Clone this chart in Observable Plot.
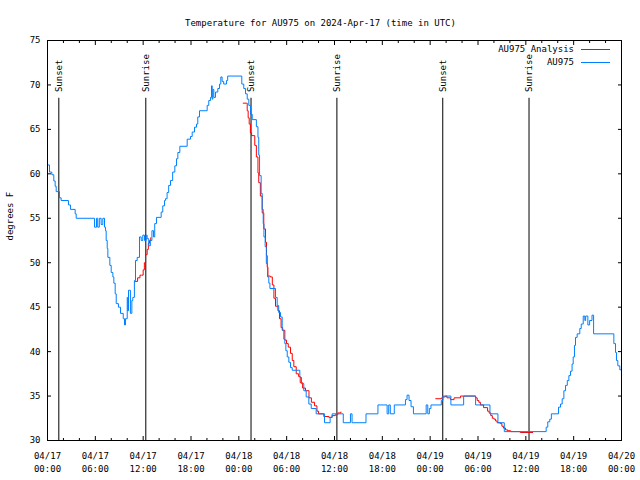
<!DOCTYPE html>
<html><head><meta charset="utf-8">
<script src="https://cdn.jsdelivr.net/npm/d3@7"></script>
<script src="https://cdn.jsdelivr.net/npm/@observablehq/plot@0.6"></script>
<style>body{margin:0;background:#fff}</style>
</head><body><div id="chart"></div>
<script>
// hours since 2024-04-17 00:00 UTC, temperature in degrees F
const auObs = [[0.0,61.0],[0.25,60.2],[0.54,59.9],[0.79,59.2],[0.96,58.6],[1.09,58.0],[1.5,57.3],[1.71,57.0],[2.63,56.5],[2.88,56.0],[3.47,55.5],[3.6,55.0],[5.9,54.0],[6.15,55],[6.3,54],[6.5,55],[6.73,54.3],[6.94,55],[7.15,54],[7.28,53.6],[7.36,52.5],[7.49,51.6],[7.57,50.6],[7.82,49.7],[7.99,48.9],[8.2,48.4],[8.32,47.7],[8.49,46.5],[8.62,45.4],[8.9,45.0],[9.16,44.3],[9.5,43.7],[9.66,43.0],[9.78,43.7],[10.0,46.1],[10.07,44.6],[10.16,46.9],[10.4,44.3],[10.58,45.75],[10.7,46.1],[10.9,48.0],[11.04,50.25],[11.25,50.6],[11.54,52.9],[11.75,52.5],[11.95,53.1],[12.17,52.5],[12.38,53.1],[12.5,52.7],[12.7,51.9],[12.9,52.5],[13.1,53.6],[13.3,52.9],[13.45,54.4],[13.67,55.1],[14.26,55.7],[14.46,56.4],[14.68,57.0],[14.8,57.2],[15.0,57.9],[15.2,58.7],[15.43,59.25],[15.7,60.2],[15.97,60.9],[16.18,61.7],[16.35,62.4],[16.6,63.1],[17.52,63.9],[17.94,64.2],[18.15,64.7],[18.44,65.25],[18.69,65.6],[18.85,66.4],[19.07,67.1],[20.03,67.7],[20.23,68.25],[20.45,68.6],[20.57,69.9],[20.66,68.4],[20.74,69.5],[20.86,68.6],[21.07,69.2],[21.36,69.6],[21.58,70.1],[21.74,70.9],[21.9,70.4],[22.1,70.1],[22.45,70.5],[22.6,71.0],[24.37,70.1],[24.62,69.6],[24.84,69.0],[25.05,68.4],[25.25,67.7],[25.46,66.7],[25.68,66.1],[26.2,65.3],[26.4,64.1],[26.5,62.1],[26.6,59.8],[26.8,57.8],[26.93,56.0],[27.06,54.4],[27.15,52.9],[27.3,51.8],[27.45,49.9],[27.6,48.4],[27.76,47.7],[27.9,47.1],[28.6,46.1],[28.81,45.2],[29.0,44.4],[29.23,43.9],[29.44,42.4],[29.64,41.4],[29.77,40.9],[29.9,40.1],[30.07,39.4],[30.27,38.8],[30.48,38.2],[30.7,37.9],[31.65,37.1],[31.86,36.4],[32.15,35.6],[32.45,34.9],[32.78,34.1],[33.08,33.6],[33.7,33.0],[34.75,32.0],[35.45,32.6],[35.7,33.0],[37.1,32.0],[38.0,33.0],[38.2,32.0],[39.95,33.0],[41.45,34.0],[42.6,33.0],[42.8,34.0],[43.0,33.0],[43.5,34.0],[44.9,34.6],[45.1,35.1],[45.35,34.5],[45.6,33.8],[45.9,33.0],[47.5,34.0],[47.7,33.0],[47.9,33.6],[48.1,34.0],[49.4,34.5],[49.6,35.0],[50.6,34.0],[52.2,35.0],[53.7,34.0],[55.5,33.0],[56.5,32.0],[57.3,31.0],[62.55,31.5],[62.75,32.1],[63.0,32.4],[63.2,33.0],[64.1,33.75],[64.35,34.1],[64.56,34.7],[64.77,35.6],[64.98,36.2],[65.2,36.75],[65.4,37.3],[65.6,37.8],[65.8,38.6],[65.94,39.4],[66.1,40.7],[66.23,41.6],[66.44,42.0],[66.77,42.6],[66.95,43.1],[67.2,44.0],[67.4,43.5],[67.5,44.0],[67.78,43.0],[68.0,43.5],[68.3,44.1],[68.5,42.0],[71.04,40.9],[71.25,39.9],[71.37,39.0],[71.54,38.4],[71.79,37.95],[72.0,37.95]];

const analysisSeg1 = [[11.0,47.9],[11.3,48.3],[11.6,48.6],[11.8,48.6],[12.0,49.2],[12.15,50.0],[12.3,50.9],[12.5,51.5],[12.65,52.2],[12.8,52.5],[12.95,52.8]];
const analysisSeg2 = [[24.55,67.95],[24.95,67.95],[25.05,67.1],[25.17,66.3],[25.3,65.6],[25.45,64.6],[25.6,64.3],[25.9,64.3],[26.0,63.2],[26.2,61.9],[26.4,60.1],[26.5,59.0],[26.7,57.5],[26.93,55.6],[27.13,53.8],[27.35,52.3],[27.47,50.8],[27.56,49.5],[27.65,48.5],[27.95,48.4],[28.2,47.5],[28.4,46.0],[28.6,45.1],[28.9,44.6],[29.1,43.7],[29.3,42.7],[29.5,42.4],[29.77,41.3],[29.98,40.9],[30.2,40.5],[30.48,39.8],[30.7,39.0],[30.9,38.3],[31.2,37.5],[31.5,37.2],[31.7,36.5],[32.0,35.9],[32.36,35.6],[32.8,34.8],[33.1,34.3],[33.5,33.9],[33.8,33.3],[34.0,33.0],[34.66,32.7],[35.3,32.6],[35.7,32.8],[36.1,32.9],[36.4,33.1],[36.8,33.2]];
const analysisSeg3 = [[48.7,34.7],[49.5,34.9],[49.9,35.0],[50.1,34.8],[50.55,34.6],[51.0,34.8],[51.8,35.0],[53.5,35.0],[53.7,34.8],[53.9,34.5],[54.1,34.3],[54.3,34.0],[54.7,33.7],[55.2,33.3],[55.4,33.1],[55.6,32.8],[55.8,32.5],[56.0,32.4],[56.2,32.2],[56.4,32.0],[56.8,31.9],[57.0,31.6],[57.2,31.4],[57.45,31.2],[57.7,31.1],[58.1,31.0],[59.3,30.9],[60.9,30.9]];

const sunHours = [1.42, 12.33, 25.53, 36.3, 49.58, 60.4];
const sunLabels = ["Sunset", "Sunrise", "Sunset", "Sunrise", "Sunset", "Sunrise"];
const sunLineTop = 68.5;
const sunLabelBase = 69.2;

const xMajorTicks = [0, 6, 12, 18, 24, 30, 36, 42, 48, 54, 60, 66, 72];
const xTickLabels = ["04/17\n00:00","04/17\n06:00","04/17\n12:00","04/17\n18:00","04/18\n00:00","04/18\n06:00","04/18\n12:00","04/18\n18:00","04/19\n00:00","04/19\n06:00","04/19\n12:00","04/19\n18:00","04/20\n00:00"];
const xMinorTicks = [2, 4, 8, 10, 14, 16, 20, 22, 26, 28, 32, 34, 38, 40, 44, 46, 50, 52, 56, 58, 62, 64, 68, 70];
const yTicks = [30, 35, 40, 45, 50, 55, 60, 65, 70, 75];

const titleText = "Temperature for AU975 on 2024-Apr-17 (time in UTC)";
const yLabelText = "degrees F";
const legendItems = [["AU975 Analysis", "#ff0000"], ["AU975", "#0080ff"]];

const FONT = "'DejaVu Sans Mono', 'Liberation Mono', monospace";
const blue = "#0080ff", red = "#ff0000";

function legendMark() {
  const g = d3.create("svg:g").attr("font-family", FONT).attr("font-size", 9);
  legendItems.forEach(([label, color], i) => {
    const y = 49.5 + i * 13;
    g.append("text").attr("x", 574).attr("y", y).attr("dy", "0.32em")
      .attr("text-anchor", "end").attr("fill", "black").text(label);
    g.append("line").attr("x1", 581).attr("x2", 610).attr("y1", y).attr("y2", y)
      .attr("stroke", color).attr("stroke-width", 1);
  });
  return g.node();
}

const step = "step-after";
const chart = Plot.plot({
  width: 640, height: 480,
  marginLeft: 47, marginRight: 19, marginTop: 40, marginBottom: 40,
  style: {fontFamily: FONT, fontSize: "9px", background: "white", color: "black"},
  x: {domain: [0, 72], axis: null},
  y: {domain: [30, 75], axis: null},
  marks: [
    Plot.ruleX(sunHours, {x: d => d, y1: 30, y2: sunLineTop, stroke: "black", strokeWidth: 1}),
    Plot.text(sunHours, {x: d => d, y: sunLabelBase, text: (d, i) => sunLabels[i], rotate: -90, textAnchor: "start", lineAnchor: "middle", fill: "black", fontSize: 9}),
    Plot.line(analysisSeg1, {x: d => d[0], y: d => d[1], curve: step, stroke: red, strokeWidth: 1}),
    Plot.line(analysisSeg2, {x: d => d[0], y: d => d[1], curve: step, stroke: red, strokeWidth: 1}),
    Plot.line(analysisSeg3, {x: d => d[0], y: d => d[1], curve: step, stroke: red, strokeWidth: 1}),
    Plot.line(auObs, {x: d => d[0], y: d => d[1], curve: step, stroke: blue, strokeWidth: 1}),
    Plot.frame({stroke: "black", strokeWidth: 1}),
    Plot.axisX(xMajorTicks, {anchor: "bottom", tickSize: 4, dy: -4, tickFormat: () => "", label: null}),
    Plot.axisX(xMajorTicks, {anchor: "top", tickSize: 4, dy: 4, tickFormat: () => "", label: null}),
    Plot.axisX(xMinorTicks, {anchor: "bottom", tickSize: 2, dy: -2, tickFormat: () => "", label: null}),
    Plot.axisX(xMinorTicks, {anchor: "top", tickSize: 2, dy: 2, tickFormat: () => "", label: null}),
    Plot.axisX(xMajorTicks, {anchor: "bottom", tickSize: 0, tickPadding: 9, tickFormat: d => xTickLabels[xMajorTicks.indexOf(d)], lineHeight: 1.45, label: null, fill: "black"}),
    Plot.axisY(yTicks, {anchor: "left", tickSize: 4, dx: 4, tickFormat: () => "", label: null}),
    Plot.axisY(yTicks, {anchor: "right", tickSize: 4, dx: -4, tickFormat: () => "", label: null}),
    Plot.axisY(yTicks, {anchor: "left", tickSize: 0, tickPadding: 7, label: null, fill: "black"}),
    Plot.text([titleText], {frameAnchor: "top", text: d => d, dx: -14, dy: -21, fill: "black", fontSize: 9}),
    Plot.text([yLabelText], {frameAnchor: "left", text: d => d, rotate: -90, dx: -37, fill: "black", fontSize: 9}),
    legendMark
  ]
});
document.getElementById("chart").appendChild(chart);
</script>
</body></html>
